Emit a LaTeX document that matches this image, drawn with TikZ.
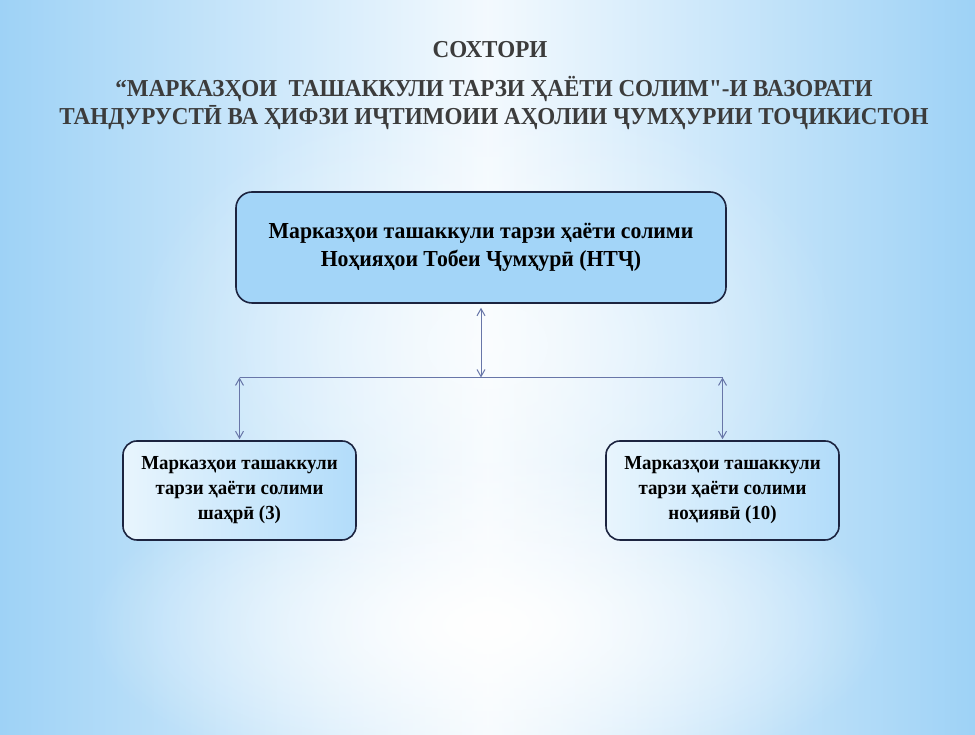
\documentclass[tikz,border=0pt]{standalone}
\usepackage{fontspec}
\setmainfont{Liberation Serif}[FakeStretch=0.95, Ligatures=TeXOff]
\usepackage{tikz}
\usetikzlibrary{positioning,arrows.meta,fadings}

\definecolor{bgedge}{RGB}{158,210,246}
\definecolor{boxline}{RGB}{28,36,64}
\definecolor{mainfill}{RGB}{163,213,248}
\definecolor{subleft}{RGB}{232,245,253}
\definecolor{subright}{RGB}{178,220,250}
\definecolor{linkcol}{RGB}{104,118,168}
\definecolor{titlecol}{RGB}{60,60,60}
\tikzfading[name=glow, inner color=transparent!0, outer color=transparent!100]

\begin{document}
\begin{tikzpicture}[x=1pt, y=1pt, >={Straight Barb[length=7pt,width=8pt]}, node distance=243pt]
\tikzstyle{mainbox}=[draw=boxline, line width=1.6pt, rounded corners=16pt, fill=mainfill,
  minimum width=490pt, minimum height=111pt, align=center, font=\bfseries\fontsize{22.9}{28}\selectfont, text=black]
\tikzstyle{subbox}=[draw=boxline, line width=1.6pt, rounded corners=14pt, left color=subleft, right color=subright,
  minimum width=233pt, minimum height=99pt, align=center, font=\bfseries\fontsize{19.9}{25}\selectfont, text=black]
\tikzstyle{heading}=[text=titlecol, font=\bfseries\fontsize{24.3}{28}\selectfont]
\tikzstyle{link}=[draw=linkcol, line width=1pt]

% background
\useasboundingbox (0,0) rectangle (975,735);
\shade[left color=bgedge, right color=bgedge, middle color=white!88!bgedge] (0,0) rectangle (975,735);
\fill[white, path fading=glow] (487,110) ellipse (400 and 170);
\fill[white, path fading=glow, opacity=0.6] (487,390) ellipse (360 and 260);

% titles
\node[heading] (title)  at (490,685) {СОХТОРИ};
\node[heading] (titleA) at (494,646) {“МАРКАЗҲОИ\ \ ТАШАККУЛИ ТАРЗИ ҲАЁТИ СОЛИМ"-И ВАЗОРАТИ};
\node[heading] (titleB) at (494,617) {ТАНДУРУСТӢ ВА ҲИФЗИ ИҶТИМОИИ АҲОЛИИ ҶУМҲУРИИ ТОҶИКИСТОН};

% boxes
\node[mainbox] (main) at (481,487.5) {Марказҳои ташаккули тарзи ҳаёти солими\\Ноҳияҳои Тобеи Ҷумҳурӣ (НТҶ)};
\node[subbox]  (city)     [on grid, below left=243pt and 241.5pt of main]  {Марказҳои ташаккули\\тарзи ҳаёти солими\\шаҳрӣ (3)};
\node[subbox]  (district) [on grid, below right=243pt and 241.5pt of main] {Марказҳои ташаккули\\тарзи ҳаёти солими\\ноҳиявӣ (10)};

% connectors
\coordinate (hub)  at (481,357.5);
\coordinate (hubL) at (city.north |- hub);
\coordinate (hubR) at (district.north |- hub);
\draw[link, <->, shorten <=4pt] (main) -- (hub);
\draw[link] (hubL) -- (hubR);
\draw[link, <->, shorten >=1pt] (hubL) -- (city);
\draw[link, <->, shorten >=1pt] (hubR) -- (district);

\end{tikzpicture}
\end{document}
